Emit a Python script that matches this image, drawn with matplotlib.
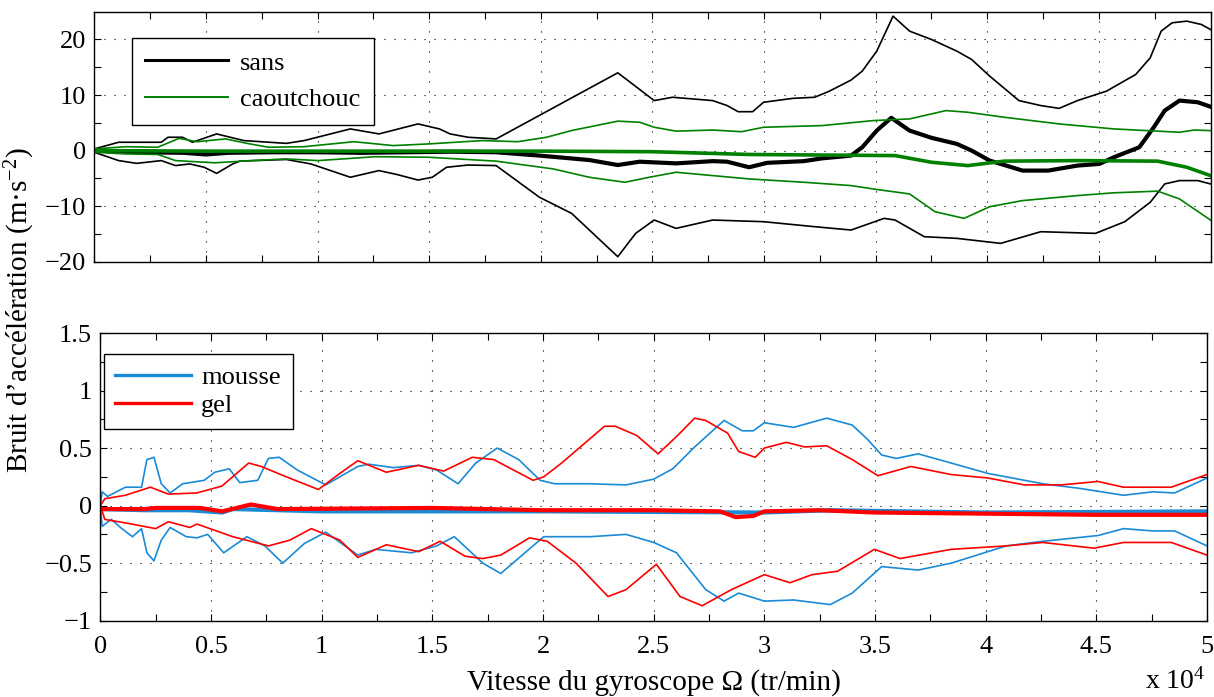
import matplotlib
matplotlib.use("Agg")
from matplotlib import pyplot as plt
from matplotlib.lines import Line2D
import numpy as np

plt.rcParams['font.family'] = ['Liberation Serif', 'DejaVu Serif']
plt.rcParams['mathtext.fontset'] = 'custom'
plt.rcParams['mathtext.rm'] = 'Liberation Serif'
plt.rcParams['mathtext.it'] = 'Liberation Serif:italic'
plt.rcParams['font.size'] = 19

# --- top: sans / caoutchouc (m/s^2) ---
sans_hi_x = [0, 1090, 1900, 3000, 3300, 3950, 4400, 5480, 6700, 8600, 9400, 11470, 12750, 14500,
             15460, 15940, 16740, 18000, 23450, 24430, 25080, 25900, 27700, 28350, 28840, 29490,
             29980, 31290, 32270, 32930, 33900, 34400, 35050, 35780, 36520, 37500, 38640, 39300,
             40110, 41420, 42400, 43220, 44040, 45340, 46650, 47300, 47790, 48280, 48940, 49590, 50000]
sans_hi_y = [0.3, 1.5, 1.5, 1.5, 2.4, 2.4, 1.5, 3.0, 1.8, 1.3, 1.8, 3.9, 3.0, 4.8,
             3.9, 3.0, 2.4, 2.1, 14.0, 11.0, 9.0, 9.6, 9.0, 8.1, 7.0, 7.0,
             8.7, 9.4, 9.6, 10.7, 12.7, 14.3, 17.9, 24.2, 21.5, 20.0, 17.9, 16.4,
             13.4, 9.0, 8.1, 7.6, 9.0, 10.7, 13.7, 16.7, 21.5, 23.0, 23.3, 22.7, 21.8]

sans_lo_x = [0, 1090, 1900, 3000, 3640, 4280, 4920, 5480, 6200, 6520, 8600, 9700, 11470, 12750,
             13550, 14500, 15140, 15780, 16740, 18000, 19940, 21380, 23450, 24250, 25080, 26060,
             27700, 29980, 32270, 33900, 35380, 35870, 37180, 38640, 40600, 42400, 44850, 46160,
             47300, 47950, 48610, 49430, 50000]
sans_lo_y = [-0.3, -1.8, -2.3, -1.8, -2.7, -2.4, -3.0, -4.1, -2.4, -1.9, -1.6, -2.4, -4.8, -3.6,
             -4.3, -5.3, -4.8, -3.0, -2.6, -2.7, -8.4, -11.3, -19.1, -14.9, -12.5, -14.0,
             -12.5, -12.8, -13.7, -14.3, -12.2, -12.5, -15.5, -15.8, -16.7, -14.6, -14.9, -12.8,
             -9.3, -6.0, -5.4, -5.4, -6.0]

sans_mean_x = [0, 2000, 4000, 5000, 6000, 8000, 10000, 12000, 14000, 16000, 18000, 19940, 22170,
               23450, 24430, 26060, 27700, 28350, 29330, 30150, 31780, 32600, 33900, 34400, 35050,
               35700, 36520, 37500, 38640, 39300, 40110, 41580, 42730, 44040, 45020, 45670, 46810,
               47460, 47950, 48610, 49430, 50000]
sans_mean_y = [0.0, -0.3, -0.4, -0.7, -0.4, -0.3, -0.3, -0.4, -0.3, -0.2, -0.3, -0.9, -1.7,
               -2.6, -2.0, -2.3, -1.9, -2.0, -3.0, -2.2, -1.9, -1.4, -0.9, 0.6, 3.6,
               5.9, 3.6, 2.3, 1.2, 0.0, -1.8, -3.6, -3.6, -2.7, -2.4, -1.2, 0.6,
               4.2, 7.2, 9.0, 8.7, 7.9]

caout_hi_x = [0, 1400, 2840, 3800, 4600, 5880, 6840, 7800, 9390, 11630, 13390, 14980, 17380, 18980,
              20260, 21370, 23450, 24430, 25080, 26060, 27700, 29000, 29980, 32600, 34890, 36520,
              38150, 39130, 40760, 43220, 45670, 48610, 49270, 50000]
caout_hi_y = [0.3, 0.7, 0.6, 2.2, 1.6, 2.1, 1.3, 0.6, 0.7, 1.6, 0.9, 1.2, 1.8, 1.6,
              2.4, 3.6, 5.3, 5.1, 4.2, 3.5, 3.7, 3.4, 4.2, 4.5, 5.4, 5.7,
              7.2, 6.9, 6.0, 4.8, 3.9, 3.3, 3.7, 3.6]

caout_lo_x = [0, 1400, 2840, 3640, 5400, 7000, 8600, 10030, 12590, 14980, 18000, 20560, 22170,
              23770, 24860, 26060, 29330, 31780, 33900, 35050, 36520, 37660, 38960, 40110, 41580,
              44040, 45670, 47630, 48610, 50000]
caout_lo_y = [-0.3, -0.6, -0.7, -1.8, -2.2, -1.8, -1.5, -1.8, -1.1, -1.2, -1.9, -3.3, -4.8,
              -5.7, -4.8, -3.9, -5.1, -5.7, -6.3, -7.0, -7.8, -11.0, -12.2, -10.1, -9.0,
              -8.1, -7.6, -7.3, -8.7, -12.5]

caout_mean_x = [0, 5000, 10000, 15000, 20000, 25000, 29330, 35870, 37500, 39130, 40760, 44040,
                47630, 48940, 50000]
caout_mean_y = [0.0, -0.1, -0.1, -0.1, -0.1, -0.2, -0.7, -0.9, -2.1, -2.7, -1.9, -1.8,
                -1.9, -3.0, -4.5]

# --- bottom: mousse / gel (m/s^2) ---
mousse_hi_x = [0, 80, 320, 1130, 1860, 2100, 2420, 2750, 3150, 3720, 4690, 5170, 5820, 6300, 7110,
               7590, 8080, 8890, 10180, 11630, 12120, 13250, 14380, 15190, 16160, 16960, 17930,
               18900, 19870, 20520, 22130, 23750, 25000, 25860, 26850, 28180, 29000, 29500, 30000,
               31320, 32820, 33970, 34640, 35300, 35960, 36950, 38440, 40100, 42580, 44240, 46230,
               47550, 48540, 50000]
mousse_hi_y = [0.0, 0.12, 0.08, 0.16, 0.16, 0.40, 0.42, 0.19, 0.11, 0.19, 0.22, 0.29, 0.32, 0.20, 0.22,
               0.41, 0.42, 0.31, 0.18, 0.34, 0.36, 0.33, 0.35, 0.31, 0.19, 0.37, 0.50,
               0.40, 0.22, 0.19, 0.19, 0.18, 0.23, 0.32, 0.51, 0.74, 0.65, 0.65, 0.72,
               0.68, 0.76, 0.70, 0.58, 0.44, 0.41, 0.45, 0.37, 0.28, 0.19, 0.15, 0.09,
               0.12, 0.11, 0.24]

mousse_lo_x = [0, 80, 490, 970, 1450, 1860, 2100, 2420, 2750, 3150, 3880, 4360, 4850, 5570, 6620,
               7430, 8240, 9210, 10180, 11630, 12440, 14060, 15190, 15990, 17280, 18090, 20030,
               22130, 23750, 25000, 26030, 27350, 28180, 28840, 30000, 31320, 32980, 33970, 35300,
               36950, 38440, 40930, 42580, 45070, 46230, 47550, 48540, 50000]
mousse_lo_y = [0.0, -0.18, -0.12, -0.20, -0.27, -0.20, -0.41, -0.48, -0.30, -0.19, -0.27, -0.28, -0.25,
               -0.41, -0.27, -0.35, -0.50, -0.33, -0.23, -0.43, -0.38, -0.41, -0.35, -0.27, -0.50,
               -0.59, -0.27, -0.27, -0.25, -0.32, -0.41, -0.73, -0.83, -0.76, -0.83, -0.82, -0.86,
               -0.76, -0.53, -0.56, -0.50, -0.35, -0.31, -0.26, -0.20, -0.22, -0.22, -0.35]

gel_hi_x = [0, 200, 1130, 2260, 3070, 4360, 5490, 6700, 7270, 8400, 9850, 10820, 11630, 12920,
            14380, 15510, 16800, 17770, 19550, 20030, 20840, 22780, 23260, 24230, 25200, 26030,
            26850, 27350, 28340, 28840, 29590, 30000, 30990, 31820, 32820, 33970, 35130, 36620,
            38440, 40100, 41750, 43410, 45070, 46230, 48380, 50000]
gel_hi_y = [0.0, 0.06, 0.09, 0.16, 0.10, 0.11, 0.17, 0.37, 0.34, 0.25, 0.14, 0.28, 0.39, 0.29,
            0.35, 0.30, 0.42, 0.40, 0.22, 0.25, 0.37, 0.69, 0.69, 0.61, 0.45, 0.60,
            0.76, 0.74, 0.63, 0.47, 0.42, 0.50, 0.55, 0.51, 0.52, 0.40, 0.26, 0.34,
            0.27, 0.24, 0.18, 0.18, 0.21, 0.16, 0.16, 0.27]

gel_lo_x = [0, 200, 1130, 2500, 3070, 4040, 4360, 5980, 7590, 8560, 9530, 10820, 11630, 12920,
            14380, 15350, 16480, 17280, 18090, 19390, 20190, 21490, 22940, 23750, 25120, 26190,
            27190, 28510, 30000, 31160, 32150, 33310, 34970, 36130, 38440, 40930, 42580, 44900,
            46230, 48380, 50000]
gel_lo_y = [0.0, -0.12, -0.15, -0.20, -0.14, -0.19, -0.16, -0.27, -0.35, -0.30, -0.20, -0.30, -0.45,
            -0.34, -0.40, -0.31, -0.44, -0.46, -0.43, -0.28, -0.31, -0.50, -0.79, -0.73, -0.51,
            -0.79, -0.87, -0.73, -0.60, -0.67, -0.60, -0.57, -0.38, -0.46, -0.38, -0.35, -0.32,
            -0.37, -0.32, -0.32, -0.43]

mousse_mean_x = [0, 2000, 4000, 5500, 6000, 10000, 20000, 30000, 33000, 40000, 50000]
mousse_mean_y = [-0.03, -0.04, -0.04, -0.06, -0.03, -0.05, -0.05, -0.06, -0.04, -0.06, -0.05]

gel_mean_x = [0, 2000, 2500, 4500, 5500, 6800, 8000, 15000, 20000, 25000, 28000, 28700, 29500,
              30000, 32500, 35000, 40000, 45000, 50000]
gel_mean_y = [-0.03, -0.03, -0.02, -0.02, -0.05, 0.01, -0.03, -0.02, -0.04, -0.04, -0.05, -0.10,
              -0.09, -0.05, -0.04, -0.06, -0.07, -0.08, -0.08]

xtick_pos = [0, 5000, 10000, 15000, 20000, 25000, 30000, 35000, 40000, 45000, 50000]
xtick_lab = ['0', '0.5', '1', '1.5', '2', '2.5', '3', '3.5', '4', '4.5', '5']

GREEN = '#008000'
BLUE = '#1a8ad6'
RED = '#ff0000'

W, H = 1214, 697
fig = plt.figure(figsize=(W / 100, H / 100), dpi=100)
ax1 = fig.add_axes([94.3 / W, 1 - 261.7 / H, (1210.5 - 94.3) / W, (261.7 - 11.7) / H])
ax2 = fig.add_axes([100.4 / W, 1 - 620.7 / H, (1207 - 100.4) / W, (620.7 - 333) / H])


def style(ax):
    ax.set_xlim(0, 50000)
    ax.set_xticks(xtick_pos)
    ax.set_xticks(np.arange(2500, 50000, 5000), minor=True)
    ax.grid(True, which='major', color='black', linestyle=(0, (1, 8)), linewidth=0.8)
    ax.tick_params(which='both', direction='in', length=5, width=0.8, top=True, right=True)
    ax.tick_params(axis='y', pad=6)
    ax.tick_params(axis='x', pad=11)
    for s in ax.spines.values():
        s.set_linewidth(1.0)


# top
ax1.plot(sans_hi_x, sans_hi_y, color='black', lw=1.2)
ax1.plot(sans_lo_x, sans_lo_y, color='black', lw=1.2)
ax1.plot(sans_mean_x, sans_mean_y, color='black', lw=3)
ax1.plot(caout_hi_x, caout_hi_y, color=GREEN, lw=1.2)
ax1.plot(caout_lo_x, caout_lo_y, color=GREEN, lw=1.2)
ax1.plot(caout_mean_x, caout_mean_y, color=GREEN, lw=2.6)
style(ax1)
ax1.set_ylim(-20, 25)
ax1.set_yticks([-20, -10, 0, 10, 20])
ax1.set_yticks([-15, -5, 5, 15], minor=True)
ax1.set_xticklabels([])
h1 = [Line2D([], [], color='black', lw=2.2), Line2D([], [], color=GREEN, lw=1.4)]
leg1 = ax1.legend(h1, ['sans', 'caoutchouc'], loc='upper left',
                  bbox_to_anchor=(132 / W, 1 - 38 / H), bbox_transform=fig.transFigure,
                  borderaxespad=0, fancybox=False, framealpha=1, edgecolor='black',
                  handlelength=3.15, handletextpad=0.45, labelspacing=0.5, borderpad=0.5)
leg1.get_frame().set_linewidth(1.0)

# bottom
ax2.plot(mousse_hi_x, mousse_hi_y, color=BLUE, lw=1.2)
ax2.plot(mousse_lo_x, mousse_lo_y, color=BLUE, lw=1.2)
ax2.plot(mousse_mean_x, mousse_mean_y, color=BLUE, lw=3)
ax2.plot(gel_hi_x, gel_hi_y, color=RED, lw=1.2)
ax2.plot(gel_lo_x, gel_lo_y, color=RED, lw=1.2)
ax2.plot(gel_mean_x, gel_mean_y, color=RED, lw=3)
style(ax2)
ax2.set_ylim(-1, 1.5)
ax2.set_yticks([-1, -0.5, 0, 0.5, 1, 1.5])
ax2.set_yticklabels(['\u22121', '\u22120.5', '0', '0.5', '1', '1.5'])
ax2.set_yticks([-0.75, -0.25, 0.25, 0.75, 1.25], minor=True)
ax2.set_xticklabels(xtick_lab)
h2 = [Line2D([], [], color=BLUE, lw=2.4), Line2D([], [], color=RED, lw=2.4)]
leg2 = ax2.legend(h2, ['mousse', 'gel'], loc='upper left',
                  bbox_to_anchor=(103.6 / W, 1 - 354 / H), bbox_transform=fig.transFigure,
                  borderaxespad=0, fancybox=False, framealpha=1, edgecolor='black',
                  handlelength=2.85, handletextpad=0.4, labelspacing=0.17, borderpad=0.45)
leg2.get_frame().set_linewidth(1.0)

ax2.set_xlabel('Vitesse du gyroscope \u03a9 (tr/min)', fontsize=21, labelpad=8)
fig.text(20 / W, 1 - 310 / H, 'Bruit d\u2019accélération (m·s$^{\\mathrm{-2}}$)',
         rotation=90, ha='center', va='center', fontsize=21)
fig.text(1205 / W, 2 / H, 'x 10$^{\\mathrm{4}}$', ha='right', va='bottom', fontsize=20)

fig.savefig('out.png', dpi=100)
